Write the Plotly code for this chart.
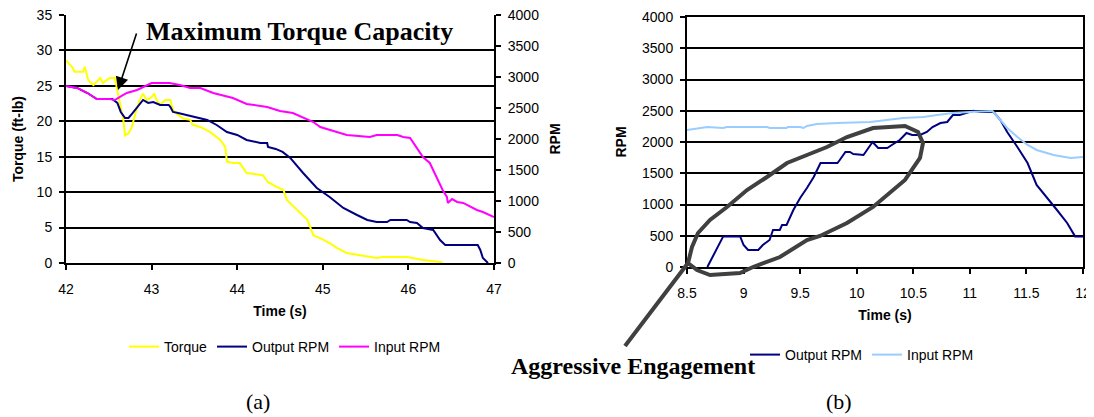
import plotly.graph_objects as go

# ---------------- data: chart (a) ----------------
torque_t = [42.0, 42.07, 42.1, 42.2, 42.22, 42.26, 42.32, 42.4, 42.43, 42.51,
            42.57, 42.6, 42.63, 42.67, 42.69, 42.73, 42.77, 42.81, 42.86, 42.9,
            42.94, 43.0, 43.03, 43.06, 43.1, 43.16, 43.22, 43.25, 43.31, 43.37,
            43.45, 43.48, 43.57, 43.68, 43.8, 43.86, 43.88, 43.95, 44.03, 44.11,
            44.3, 44.36, 44.45, 44.54, 44.58, 44.7, 44.82, 44.89, 44.97, 45.08,
            45.17, 45.28, 45.43, 45.63, 45.7, 45.98, 46.05, 46.17, 46.37, 46.4]
torque = [28.6, 27.7, 27.0, 27.0, 27.7, 25.8, 25.1, 26.1, 25.4, 26.1,
          26.1, 24.4, 22.5, 20.2, 18.0, 18.3, 19.2, 21.1, 23.0, 23.9,
          23.0, 23.4, 23.9, 23.0, 22.3, 23.0, 23.0, 21.6, 20.9, 20.4,
          20.2, 19.5, 19.2, 18.5, 17.4, 16.4, 14.3, 14.1, 14.1, 12.7,
          12.4, 11.4, 10.8, 10.3, 8.9, 7.5, 6.1, 3.9, 3.5, 2.8,
          2.1, 1.4, 1.1, 0.7, 0.85, 0.85, 0.7, 0.42, 0.14, 0.0]

out_t = [42.0, 42.13, 42.25, 42.36, 42.51, 42.54, 42.6, 42.64, 42.69, 42.73,
         42.78, 42.84, 42.9, 42.96, 43.02, 43.1, 43.2, 43.22, 43.25, 43.31,
         43.41, 43.53, 43.65, 43.76, 43.88, 44.0, 44.11, 44.27, 44.35, 44.36,
         44.45, 44.53, 44.62, 44.77, 44.93, 45.08, 45.24, 45.4, 45.52, 45.63,
         45.75, 45.79, 45.98, 46.02, 46.1, 46.17, 46.29, 46.37, 46.43, 46.57,
         46.81, 46.84, 46.87, 46.93]
out_rpm = [2855, 2823, 2742, 2645, 2645, 2645, 2581, 2436, 2339, 2339,
           2420, 2516, 2629, 2581, 2597, 2549, 2549, 2516, 2436, 2420,
           2387, 2339, 2307, 2226, 2113, 2065, 1984, 1936, 1936, 1871,
           1840, 1791, 1694, 1452, 1210, 1065, 887, 774, 694, 661,
           661, 694, 694, 661, 645, 565, 532, 371, 290, 290,
           290, 210, 81, 0]

in_t = [42.0, 42.13, 42.25, 42.36, 42.51, 42.57, 42.63, 42.71, 42.83, 42.95,
        43.0, 43.1, 43.21, 43.33, 43.45, 43.57, 43.72, 43.95, 44.11, 44.35,
        44.5, 44.65, 44.89, 44.97, 45.17, 45.28, 45.55, 45.63, 45.87, 45.94,
        46.02, 46.1, 46.17, 46.25, 46.33, 46.4, 46.45, 46.46, 46.51, 46.57,
        46.64, 46.8, 46.87, 47.0]
in_rpm = [2855, 2823, 2742, 2645, 2645, 2629, 2678, 2742, 2790, 2871,
          2903, 2903, 2903, 2871, 2823, 2823, 2742, 2661, 2565, 2516,
          2452, 2420, 2274, 2194, 2113, 2065, 2032, 2065, 2065, 2032,
          2016, 1855, 1710, 1613, 1387, 1177, 1065, 968, 1032, 984,
          968, 855, 823, 742]

# ---------------- data: chart (b) ----------------
out2_t = [8.68, 8.77, 8.82, 8.97, 9.0, 9.04, 9.13, 9.17, 9.23, 9.26,
          9.32, 9.34, 9.38, 9.44, 9.5, 9.56, 9.62, 9.68, 9.74, 9.83,
          9.85, 9.9, 9.94, 9.97, 10.06, 10.09, 10.14, 10.19, 10.27, 10.31,
          10.38, 10.44, 10.49, 10.56, 10.62, 10.67, 10.74, 10.8, 10.85, 10.91,
          10.97, 11.03, 11.09, 11.15, 11.21, 11.27, 11.33, 11.42, 11.51, 11.59,
          11.68, 11.77, 11.86, 11.93, 12.0]
out2_rpm = [0, 304, 490, 490, 352, 272, 272, 352, 432, 592,
            592, 672, 672, 912, 1104, 1264, 1440, 1664, 1664, 1664,
            1712, 1840, 1840, 1808, 1792, 1872, 2000, 1904, 1904, 1952,
            2032, 2144, 2112, 2112, 2160, 2240, 2304, 2320, 2432, 2432,
            2464, 2500, 2480, 2480, 2480, 2352, 2160, 1920, 1664, 1312,
            1120, 912, 704, 490, 490]

in2_t = [8.5, 8.68, 8.82, 8.85, 9.21, 9.23, 9.38, 9.39, 9.5, 9.53,
         9.56, 9.65, 9.83, 10.12, 10.41, 10.59, 10.71, 10.85, 11.0, 11.2,
         11.27, 11.33, 11.42, 11.51, 11.59, 11.74, 11.89, 12.0]
in2_rpm = [2192, 2240, 2224, 2240, 2240, 2224, 2224, 2240, 2240, 2224,
           2256, 2288, 2304, 2320, 2384, 2400, 2432, 2464, 2480, 2496,
           2352, 2224, 2080, 1952, 1872, 1792, 1744, 1760]

# ---------------- layout helpers (window pixel -> paper) ----------------
OFF = 8                      # page body margin around the figure
W, H = 1094 - OFF, 417 - OFF
L_PX, R_PX, T_PX, B_PX = 66, 1083, 15, 267   # plot block in window pixels
ML, MR, MT, MB = L_PX - OFF, W - (R_PX - OFF), T_PX - OFF, H - (B_PX - OFF)
PW, PH = W - ML - MR, H - MT - MB


def px(x):
    return (x - L_PX) / PW


def py(y):
    return (B_PX - y) / PH


SANS = "Liberation Sans, Arial, sans-serif"
SERIF = "Liberation Serif, Times New Roman, serif"
tickfont = dict(family=SANS, size=14, color="#000000")
titlefont = dict(family=SANS, size=14, color="#000000", weight="bold")

fig = go.Figure()

fig.add_trace(go.Scatter(x=torque_t, y=torque, name="Torque", mode="lines",
                         line=dict(color="#FFFF00", width=2), xaxis="x", yaxis="y",
                         legend="legend"))
fig.add_trace(go.Scatter(x=out_t, y=out_rpm, name="Output RPM", mode="lines",
                         line=dict(color="#000080", width=2), xaxis="x", yaxis="y2",
                         legend="legend"))
fig.add_trace(go.Scatter(x=in_t, y=in_rpm, name="Input RPM", mode="lines",
                         line=dict(color="#FF00FF", width=2), xaxis="x", yaxis="y2",
                         legend="legend"))
fig.add_trace(go.Scatter(x=out2_t, y=out2_rpm, name="Output RPM", mode="lines",
                         line=dict(color="#000080", width=2), xaxis="x2", yaxis="y3",
                         legend="legend2"))
fig.add_trace(go.Scatter(x=in2_t, y=in2_rpm, name="Input RPM", mode="lines",
                         line=dict(color="#99CCFF", width=2), xaxis="x2", yaxis="y3",
                         legend="legend2"))

axis_common = dict(showline=True, linecolor="#000000", linewidth=2,
                   ticks="outside", ticklen=5, tickwidth=2, tickcolor="#000000",
                   tickfont=tickfont, zeroline=False, automargin=False,
                   ticklabeloverflow="allow", title_font=titlefont)

fig.update_layout(
    width=W, height=H,
    margin=dict(l=ML, r=MR, t=MT, b=MB, pad=0),
    paper_bgcolor="white", plot_bgcolor="white",
    xaxis=dict(domain=[0, px(494)], anchor="y", range=[42, 47], dtick=1,
               showgrid=False, title=dict(text="Time (s)", standoff=10),
               ticklabelstandoff=7, **axis_common),
    yaxis=dict(domain=[py(263), 1], anchor="x", range=[0, 35], dtick=5,
               showgrid=True, gridcolor="#000000", gridwidth=2,
               title=dict(text="Torque (ft-lb)", standoff=10),
               ticklabelstandoff=4, **axis_common),
    yaxis2=dict(overlaying="y", anchor="x", side="right", range=[0, 4000], dtick=500,
                showgrid=False, title=dict(text="RPM", standoff=12),
                ticklabelstandoff=4, **axis_common),
    xaxis2=dict(domain=[px(687), 1], anchor="y3", range=[8.5, 12], dtick=0.5,
                showgrid=False, mirror=True, title=dict(text="Time (s)", standoff=10),
                ticklabelstandoff=7, **axis_common),
    yaxis3=dict(domain=[0, py(17)], anchor="x2", range=[0, 4000], dtick=500,
                showgrid=True, gridcolor="#000000", gridwidth=2, mirror=True,
                title=dict(text="RPM", standoff=12),
                ticklabelstandoff=4, **axis_common),
    legend=dict(orientation="h", x=px(124), y=py(347), xanchor="left", yanchor="middle",
                font=dict(family=SANS, size=14, color="#000000"),
                bgcolor="rgba(0,0,0,0)", traceorder="normal"),
    legend2=dict(orientation="h", x=px(745), y=py(355), xanchor="left", yanchor="middle",
                 font=dict(family=SANS, size=14, color="#000000"),
                 bgcolor="rgba(0,0,0,0)", traceorder="normal"),
    showlegend=True,
)

# hand-drawn loop and pointer in chart (b) (outline in window pixels)
loop_px = [(625, 346), (688, 263), (692, 247), (698, 233), (710, 220), (727, 207),
           (747, 190), (767, 177), (787, 163), (807, 155), (827, 147), (847, 137),
           (873, 128), (905, 126), (918, 132), (923, 143), (920, 158), (905, 180),
           (873, 207), (847, 223), (820, 236), (807, 240), (780, 257), (753, 267),
           (740, 273), (710, 275), (697, 270), (688, 263)]
path = "M " + " L ".join(f"{px(a):.5f},{py(b):.5f}" for a, b in loop_px)
fig.add_shape(type="path", path=path, xref="paper", yref="paper",
              line=dict(color="#404040", width=4), layer="above")

fig.add_annotation(text="<b>Maximum Torque Capacity</b>", x=px(299), y=py(31),
                   xref="paper", yref="paper", showarrow=False,
                   xanchor="center", yanchor="middle",
                   font=dict(family=SERIF, size=26, color="#000000"))
fig.add_annotation(text="", x=px(118), y=py(90), xref="paper", yref="paper",
                   ax=19, ay=-58, axref="pixel", ayref="pixel", showarrow=True,
                   arrowhead=2, arrowsize=1.6, arrowwidth=1.6, arrowcolor="#000000",
                   standoff=0)
fig.add_annotation(text="<b>Aggressive Engagement</b>", x=px(633), y=py(366),
                   xref="paper", yref="paper", showarrow=False,
                   xanchor="center", yanchor="middle",
                   font=dict(family=SERIF, size=24, color="#000000"))
fig.add_annotation(text="(a)", x=px(258), y=py(401), xref="paper", yref="paper",
                   showarrow=False, xanchor="center", yanchor="middle",
                   font=dict(family=SERIF, size=22, color="#000000"))
fig.add_annotation(text="(b)", x=px(839), y=py(401), xref="paper", yref="paper",
                   showarrow=False, xanchor="center", yanchor="middle",
                   font=dict(family=SERIF, size=22, color="#000000"))

fig.write_html("out.html")
